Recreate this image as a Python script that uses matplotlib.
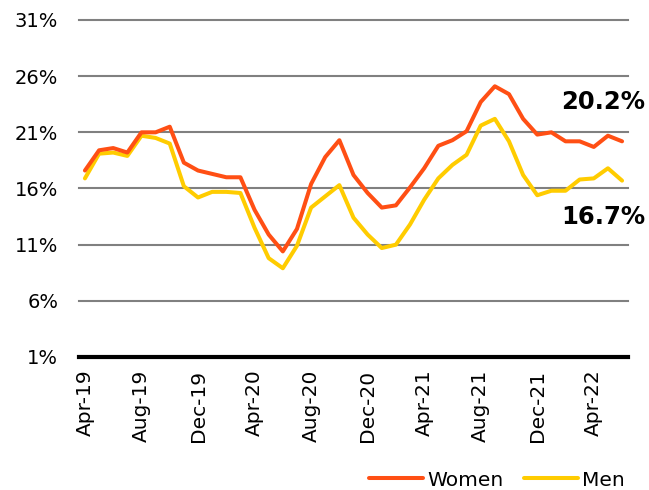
import matplotlib
matplotlib.use("Agg")
import matplotlib.pyplot as plt

months = ["Apr-19", "May-19", "Jun-19", "Jul-19", "Aug-19", "Sep-19", "Oct-19", "Nov-19",
          "Dec-19", "Jan-20", "Feb-20", "Mar-20", "Apr-20", "May-20", "Jun-20", "Jul-20",
          "Aug-20", "Sep-20", "Oct-20", "Nov-20", "Dec-20", "Jan-21", "Feb-21", "Mar-21",
          "Apr-21", "May-21", "Jun-21", "Jul-21", "Aug-21", "Sep-21", "Oct-21", "Nov-21",
          "Dec-21", "Jan-22", "Feb-22", "Mar-22", "Apr-22", "May-22", "Jun-22"]

women = [17.6, 19.4, 19.6, 19.2, 21.0, 21.0, 21.5, 18.3, 17.6, 17.3, 17.0, 17.0, 14.1,
         11.9, 10.4, 12.4, 16.4, 18.8, 20.3, 17.2, 15.6, 14.3, 14.5, 16.1, 17.8, 19.8,
         20.3, 21.1, 23.7, 25.1, 24.4, 22.2, 20.8, 21.0, 20.2, 20.2, 19.7, 20.7, 20.2]

men = [16.9, 19.1, 19.2, 18.9, 20.7, 20.5, 20.0, 16.2, 15.2, 15.7, 15.7, 15.6, 12.5,
       9.8, 8.9, 10.9, 14.3, 15.3, 16.3, 13.4, 11.9, 10.7, 11.0, 12.8, 15.0, 16.9,
       18.1, 19.0, 21.6, 22.2, 20.2, 17.2, 15.4, 15.8, 15.8, 16.8, 16.9, 17.8, 16.7]

tick_labels = ["Apr-19", "Aug-19", "Dec-19", "Apr-20", "Aug-20", "Dec-20",
               "Apr-21", "Aug-21", "Dec-21", "Apr-22"]
y_ticks = [1, 6, 11, 16, 21, 26, 31]

series_names = ["Women", "Men"]
colors = ["#FF4F14", "#FFCC00"]

fig = plt.figure(figsize=(6.49, 4.90), dpi=100)
ax = fig.add_axes([79 / 649, 1 - 357 / 490, (628 - 79) / 649, (357 - 20) / 490])

x = list(range(len(months)))
ax.plot(x, women, color=colors[0], lw=2.9, label=series_names[0],
        solid_joinstyle="round", solid_capstyle="round", zorder=4)
ax.plot(x, men, color=colors[1], lw=2.9, label=series_names[1],
        solid_joinstyle="round", solid_capstyle="round", zorder=3)

ax.set_xlim(-0.42, len(months) - 1 + 0.42)
ax.set_ylim(1, 31)
ax.set_yticks(y_ticks)
ax.set_yticklabels([f"{v}%" for v in y_ticks])
tick_pos = [months.index(t) for t in tick_labels]
ax.set_xticks(tick_pos)
ax.set_xticklabels(tick_labels, rotation=90)

ax.grid(axis="y", color="#808080", lw=1.5, zorder=1)
for gl in ax.yaxis.get_gridlines():
    gl.set_clip_on(False)
ax.set_axisbelow(True)
for s in ["top", "right", "left"]:
    ax.spines[s].set_visible(False)
ax.spines["bottom"].set_color("black")
ax.spines["bottom"].set_linewidth(3)
ax.spines["bottom"].set_zorder(5)

ax.tick_params(axis="y", length=0, pad=15, labelsize=14, colors="black")
ax.tick_params(axis="x", length=0, pad=9, labelsize=14.5, colors="black")

ax.annotate(f"{women[-1]:.1f}%", xy=(x[-1], women[-1]), xytext=(-13.5, 28.5),
            textcoords="offset points", ha="center", va="center",
            fontsize=17.5, fontweight="bold", color="black")
ax.annotate(f"{men[-1]:.1f}%", xy=(x[-1], men[-1]), xytext=(-13.5, -26),
            textcoords="offset points", ha="center", va="center",
            fontsize=17.5, fontweight="bold", color="black")

fig.legend(loc="center right", bbox_to_anchor=(625 / 649, 1 - 480 / 490),
           ncol=2, frameon=False, fontsize=14.5, handlelength=2.7,
           handletextpad=0.2, columnspacing=1.0, borderpad=0, borderaxespad=0)

fig.savefig("out.png", dpi=100)
